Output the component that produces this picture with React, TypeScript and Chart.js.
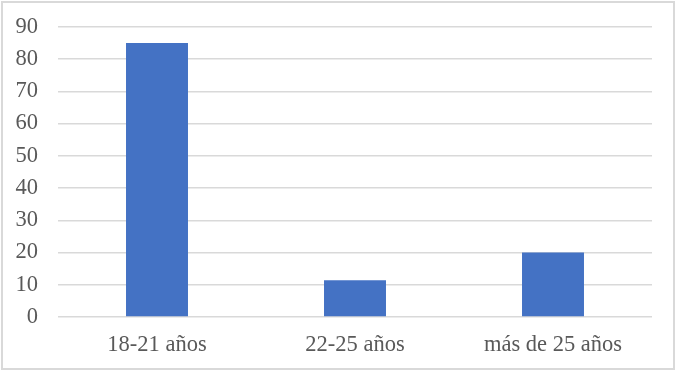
import React, { useEffect, useRef } from "react";
import { Chart, registerables } from "chart.js";

Chart.register(...registerables);

const categories = ["18-21 años", "22-25 años", "más de 25 años"];
const values = [85, 11.4, 20];
const yMin = 0;
const yMax = 90;
const yStep = 10;

export default function App() {
  const ref = useRef<HTMLCanvasElement | null>(null);

  useEffect(() => {
    if (!ref.current) return;
    const family = "'Liberation Serif', 'Times New Roman', serif";
    const xFont = { family, size: 22.5 };
    const yFont = { family, size: 22.5, lineHeight: 0.6 };
    const chart = new Chart(ref.current, {
      type: "bar",
      data: {
        labels: categories,
        datasets: [
          {
            data: values,
            backgroundColor: "#4472C4",
            borderWidth: 0,
            categoryPercentage: 1,
            barPercentage: 0.313,
          },
        ],
      },
      options: {
        animation: false,
        responsive: false,
        devicePixelRatio: 1,
        layout: { padding: { top: 24, right: 25, left: 0, bottom: 0 } },
        plugins: { legend: { display: false }, tooltip: { enabled: false } },
        scales: {
          x: {
            grid: { display: false, drawTicks: false },
            border: { display: false },
            ticks: { color: "#595959", font: xFont, padding: 15, maxRotation: 0 },
            afterFit: (s: any) => {
              s.height = 55;
            },
          },
          y: {
            min: yMin,
            max: yMax,
            ticks: { stepSize: yStep, color: "#595959", font: yFont, padding: 20 },
            grid: { color: "#d9d9d9", lineWidth: 1.4, drawTicks: false },
            border: { display: false },
            afterFit: (s: any) => {
              s.width = 58;
            },
          },
        },
      },
    });
    return () => chart.destroy();
  }, []);

  return (
    <div style={{ position: "fixed", left: 0, top: 0, width: 677, height: 372, background: "#fff" }}>
      <div
        style={{
          position: "absolute",
          left: 1,
          top: 1,
          width: 674,
          height: 369,
          boxSizing: "border-box",
          border: "2px solid #d9d9d9",
        }}
      />
      <canvas ref={ref} width={677} height={372} style={{ position: "absolute", left: 0, top: 0 }} />
    </div>
  );
}
